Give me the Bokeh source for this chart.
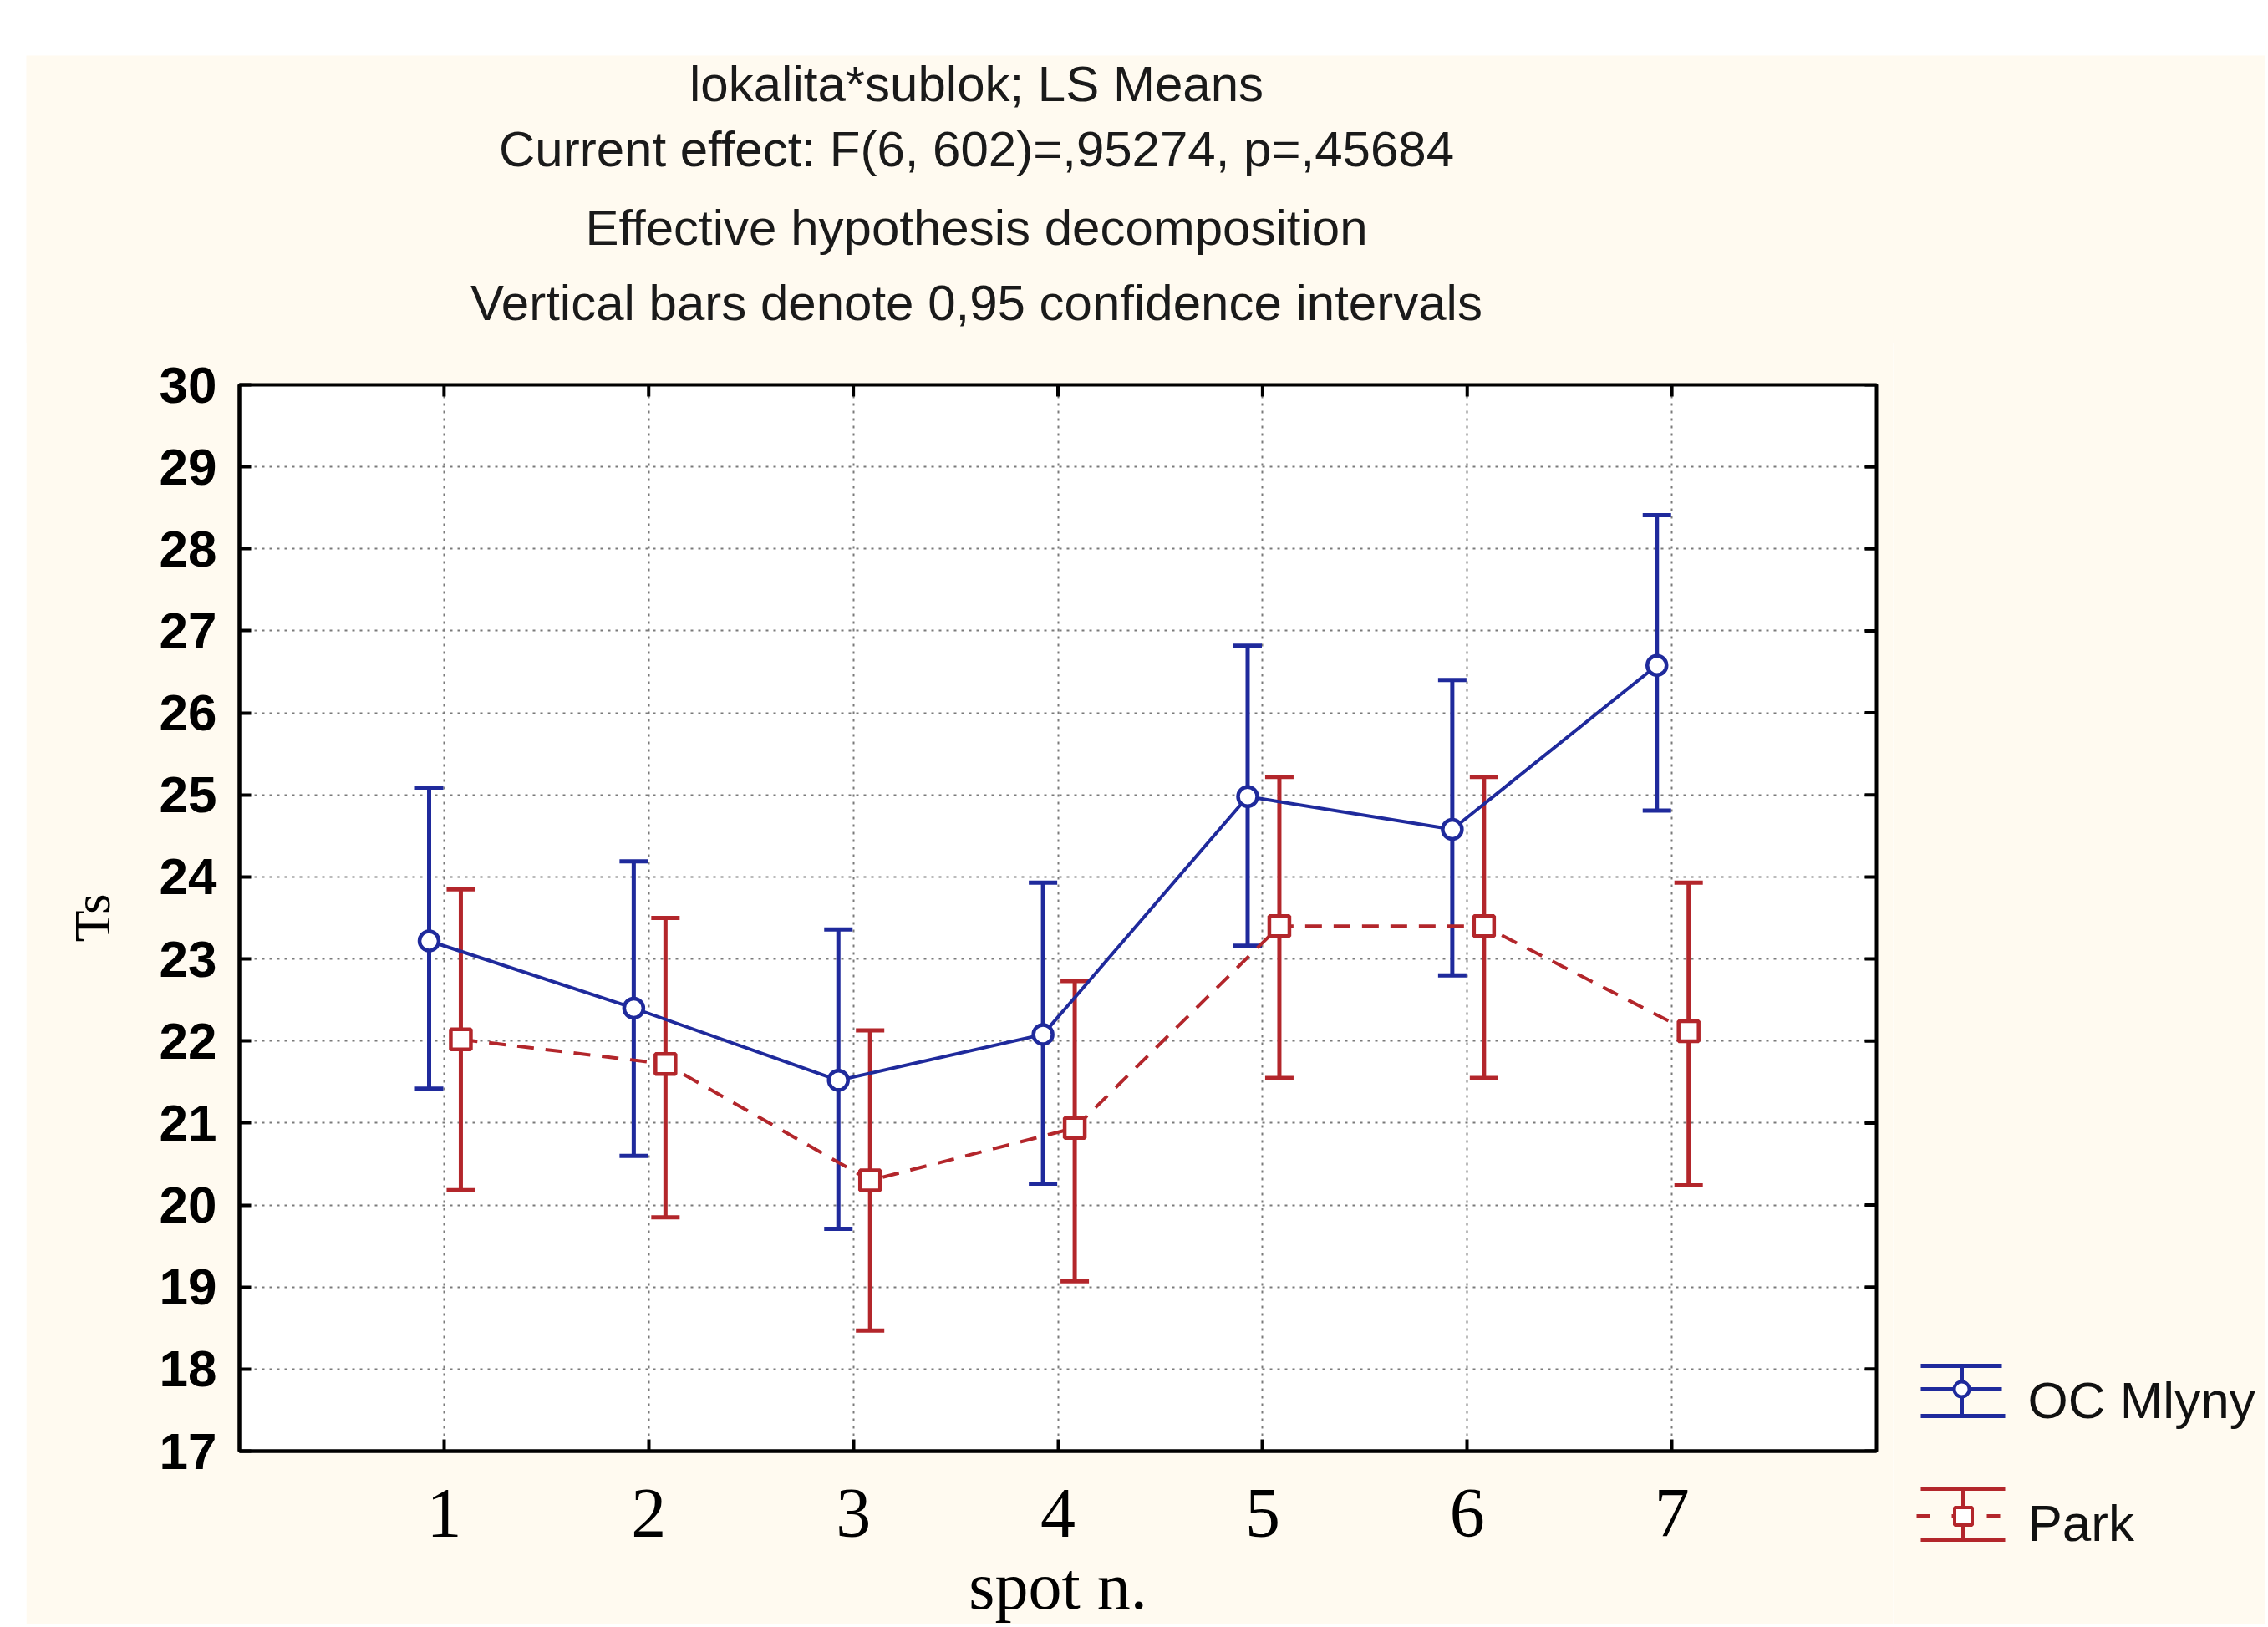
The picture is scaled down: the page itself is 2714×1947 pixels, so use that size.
import math
from bokeh.plotting import figure
from bokeh.models import Range1d, FixedTicker, Spacer
from bokeh.layouts import column, row
from bokeh.core.properties import value
from bokeh.embed import file_html
from bokeh.resources import INLINE

# ---------------- data ----------------
spots = [1, 2, 3, 4, 5, 6, 7]
blue_mean = [23.22, 22.40, 21.52, 22.08, 24.98, 24.58, 26.58]
blue_lo = [21.42, 20.60, 19.71, 20.26, 23.16, 22.80, 24.81]
blue_hi = [25.09, 24.19, 23.36, 23.93, 26.82, 26.40, 28.41]
red_mean = [22.02, 21.72, 20.30, 20.94, 23.40, 23.40, 22.12]
red_lo = [20.18, 19.85, 18.47, 19.07, 21.55, 21.55, 20.24]
red_hi = [23.85, 23.50, 22.13, 22.73, 25.22, 25.22, 23.93]
series_names = ["OC Mlyny", "Park"]
y_ticks = list(range(17, 31))
x_ticks = spots
title_lines = [
    "lokalita*sublok; LS Means",
    "Current effect: F(6, 602)=,95274, p=,45684",
    "Effective hypothesis decomposition",
    "Vertical bars denote 0,95 confidence intervals",
]
x_label = "spot n."
y_label = "Ts"

# ---------------- style ----------------
CREAM = "#fffaf0"
BLUE = "#1f2a9c"
RED = "#b3262b"
SANS = "Liberation Sans"
SERIF = "Liberation Serif"
DODGE_BLUE = -0.073
DODGE_RED = 0.082

W_TOTAL = 2680
HEADER_H = 344
TOP_PAD = 50
MAIN_W = 2234
LEG_W = W_TOTAL - MAIN_W
MAIN_H = 1534
X_MIN, X_MAX = 0, 8
Y_MIN, Y_MAX = 17, 30

# ---------------- header ----------------
header = figure(width=W_TOTAL, height=HEADER_H, x_range=Range1d(0, W_TOTAL),
                y_range=Range1d(HEADER_H, 0), x_axis_type=None, y_axis_type=None,
                output_backend="svg", toolbar_location=None, min_border=0,
                background_fill_color=CREAM, border_fill_color=CREAM,
                outline_line_color=None, frame_align=False)
header.text(x=[1137] * 4, y=[34, 112, 206, 296], text=title_lines,
            text_font=value(SANS), text_font_size="60px", text_color="#1a1a1a",
            text_align="center", text_baseline="middle")

# ---------------- main ----------------
p = figure(frame_width=1959, frame_height=1276, min_border_left=255,
           min_border_right=20, min_border_top=TOP_PAD,
           min_border_bottom=MAIN_H - TOP_PAD - 1276,
           x_range=Range1d(X_MIN, X_MAX), y_range=Range1d(Y_MIN, Y_MAX),
           output_backend="svg", toolbar_location=None,
           background_fill_color="white", border_fill_color=CREAM,
           outline_line_color="black", outline_line_width=4, frame_align=False)

for ax in (p.xaxis[0], p.yaxis[0]):
    ax.axis_line_width = 4
    ax.major_tick_in = 14
    ax.major_tick_out = 0
    ax.major_tick_line_width = 4
    ax.minor_tick_line_color = None
    ax.major_label_text_color = "black"
    ax.axis_label_text_color = "black"
    ax.axis_label_text_font_style = "normal"

p.xaxis.ticker = FixedTicker(ticks=x_ticks)
p.yaxis.ticker = FixedTicker(ticks=y_ticks)
p.xaxis.major_label_text_font = SERIF
p.xaxis.major_label_text_font_size = "84px"
p.xaxis.major_label_standoff = 46
p.xaxis.axis_label = x_label
p.xaxis.axis_label_text_font = SERIF
p.xaxis.axis_label_text_font_size = "80px"
p.xaxis.axis_label_standoff = 12

p.yaxis.major_label_text_font = SANS
p.yaxis.major_label_text_font_size = "62px"
p.yaxis.major_label_text_font_style = "bold"
p.yaxis.major_label_standoff = 27
p.yaxis.axis_label = y_label
p.yaxis.axis_label_text_font = SERIF
p.yaxis.axis_label_text_font_size = "62px"
p.yaxis.axis_label_standoff = 44

# inward tick marks on the right and top frame edges (outer half is clipped)
p.scatter(x=[X_MAX] * len(y_ticks), y=y_ticks, marker="dash", size=28,
          line_color="black", line_width=4)
p.scatter(x=x_ticks, y=[Y_MAX] * len(x_ticks), marker="dash", size=28,
          angle=math.pi / 2, line_color="black", line_width=4)

p.xgrid.ticker = FixedTicker(ticks=x_ticks)
p.ygrid.ticker = FixedTicker(ticks=y_ticks)
p.grid.grid_line_color = "#7a7a7a"
p.grid.grid_line_width = 2
p.grid.grid_line_dash = "3 6"

bx = [s + DODGE_BLUE for s in spots]
rx = [s + DODGE_RED for s in spots]

# error bars
p.segment(x0=bx, y0=blue_lo, x1=bx, y1=blue_hi, line_color=BLUE, line_width=5)
p.scatter(x=bx + bx, y=blue_lo + blue_hi, marker="dash", size=34,
          line_color=BLUE, line_width=5)
p.segment(x0=rx, y0=red_lo, x1=rx, y1=red_hi, line_color=RED, line_width=5)
p.scatter(x=rx + rx, y=red_lo + red_hi, marker="dash", size=34,
          line_color=RED, line_width=5)

# lines
p.line(x=bx, y=blue_mean, line_color=BLUE, line_width=4)
p.line(x=rx, y=red_mean, line_color=RED, line_width=4, line_dash="20 14")

# markers
p.scatter(x=bx, y=blue_mean, marker="circle", size=23, fill_color="white",
          line_color=BLUE, line_width=4.5)
p.scatter(x=rx, y=red_mean, marker="square", size=24, fill_color="white",
          line_color=RED, line_width=4.5)

# ---------------- legend ----------------
LY = HEADER_H
leg = figure(width=LEG_W, height=MAIN_H, x_range=Range1d(0, LEG_W),
             y_range=Range1d(MAIN_H + LY, LY), x_axis_type=None, y_axis_type=None,
             output_backend="svg", toolbar_location=None, min_border=0,
             background_fill_color=CREAM, border_fill_color=CREAM,
             outline_line_color=None, frame_align=False)
# blue item
leg.segment(x0=[33, 33], y0=[1568, 1628], x1=[130, 134], y1=[1568, 1628],
            line_color=BLUE, line_width=5)
leg.segment(x0=[33], y0=[1596], x1=[130], y1=[1596], line_color=BLUE, line_width=5)
leg.segment(x0=[82], y0=[1568], x1=[82], y1=[1628], line_color=BLUE, line_width=5)
leg.scatter(x=[82], y=[1596], marker="circle", size=18, fill_color="white",
            line_color=BLUE, line_width=4)
# red item
leg.segment(x0=[33, 33], y0=[1715, 1776], x1=[134, 134], y1=[1715, 1776],
            line_color=RED, line_width=5)
leg.segment(x0=[28], y0=[1748], x1=[128], y1=[1748], line_color=RED,
            line_width=5, line_dash="16 26 2 40")
leg.segment(x0=[84], y0=[1715], x1=[84], y1=[1776], line_color=RED, line_width=5)
leg.scatter(x=[84], y=[1748], marker="square", size=21, fill_color="white",
            line_color=RED, line_width=4)

leg.text(x=[161, 161], y=[1609, 1756], text=series_names,
         text_font=value(SANS), text_font_size="62px", text_color="#111111",
         text_align="left", text_baseline="middle")

layout = column(Spacer(height=66, width=10),
                row(Spacer(width=31, height=10),
                    column(header, row(p, leg))))

open("out.html", "w").write(file_html(layout, INLINE))
